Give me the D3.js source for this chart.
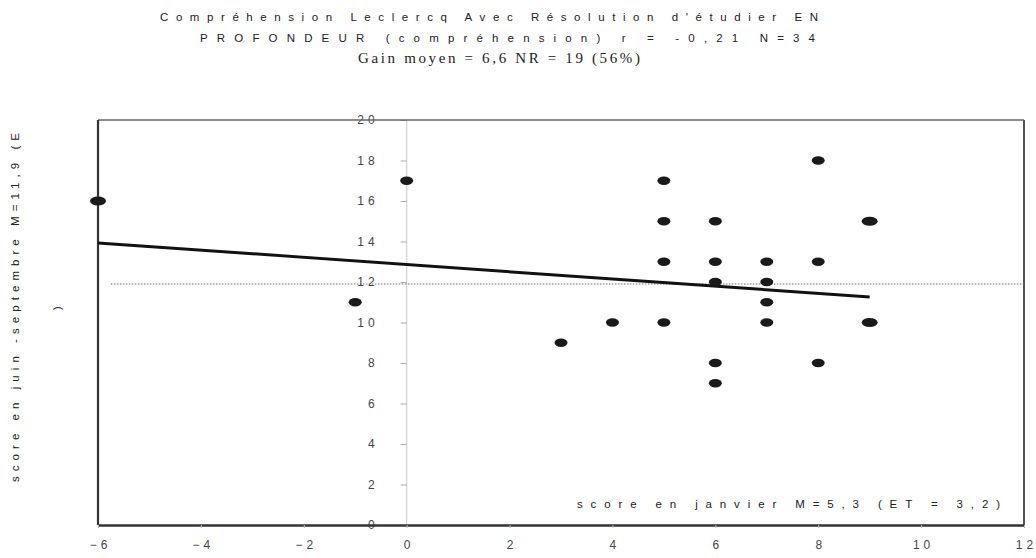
<!DOCTYPE html>
<html><head><meta charset="utf-8">
<script src="https://cdn.jsdelivr.net/npm/d3@7"></script>
<style>body{margin:0;background:#fff}svg{display:block}</style>
</head><body>
<svg id="c" width="1036" height="558"></svg>
<script>
// ---- data ----
const xVals  = [-6, 0, -1, 3, 4, 5, 5, 5, 5, 6, 6, 6, 6, 6, 7, 7, 7, 7, 8, 8, 8, 9, 9];
const yVals  = [16, 17, 11, 9, 10, 17, 15, 13, 10, 15, 13, 12, 8, 7, 13, 12, 11, 10, 18, 13, 8, 15, 10];
const counts = [2, 1, 1, 1, 1, 1, 1, 1, 1, 1, 1, 1, 1, 1, 1, 1, 1, 1, 1, 1, 1, 2, 2];
const regX = [-6, 9];
const regY = [13.93, 11.26];
const meanY = 11.9;
const xTicks = [-6, -4, -2, 0, 2, 4, 6, 8, 10, 12];
const yTicks = [0, 2, 4, 6, 8, 10, 12, 14, 16, 18, 20];
const titleLines = [
  "Compréhension Leclercq Avec Résolution d'étudier EN",
  "PROFONDEUR (compréhension) r = -0,21   N=34",
  "Gain moyen = 6,6  NR = 19 (56%)"
];
const xLabel = "score en janvier M=5,3 (ET = 3,2)";
const yLabel = "score en juin -septembre M=11,9 (E";
const yLabel2 = ")";

// ---- layout ----
const L = 98, R = 1024, T = 120, B = 525;
const svg = d3.select("#c");
const x = d3.scaleLinear().domain([-6, 12]).range([L, R]);
const y = d3.scaleLinear().domain([0, 20]).range([B, T]);
const sans = "'Liberation Sans', Arial, sans-serif";
const serif = "'Liberation Serif', 'Times New Roman', serif";

// light vertical zero line
svg.append("line").attr("x1", x(0)).attr("x2", x(0)).attr("y1", T).attr("y2", B)
  .attr("stroke", "#d0d0d0").attr("stroke-width", 1.2);

// mean dotted line
svg.append("line").attr("x1", x(-5.75)).attr("x2", R).attr("y1", y(meanY)).attr("y2", y(meanY))
  .attr("stroke", "#999").attr("stroke-width", 1.4).attr("stroke-dasharray", "1.5,1.5");

// y axis on x=0
const yAx = svg.append("g").attr("transform", `translate(${x(0)},0)`)
  .call(d3.axisLeft(y).tickValues(yTicks).tickSize(6).tickPadding(22).tickSizeOuter(0));
yAx.select(".domain").remove();
yAx.selectAll(".tick line").attr("stroke", "#aaa");
yAx.selectAll(".tick text").attr("font-family", sans).attr("font-size", 12).attr("fill", "#444")
  .style("letter-spacing", "4px");

// frame
svg.append("line").attr("x1", L).attr("x2", R).attr("y1", T).attr("y2", T).attr("stroke", "#666").attr("stroke-width", 1.5);
svg.append("line").attr("x1", L).attr("x2", L).attr("y1", T).attr("y2", B).attr("stroke", "#333").attr("stroke-width", 2.2);
svg.append("line").attr("x1", R).attr("x2", R).attr("y1", T).attr("y2", B).attr("stroke", "#555").attr("stroke-width", 2);

// x axis
const xAx = svg.append("g").attr("transform", `translate(0,${B})`)
  .call(d3.axisBottom(x).tickValues(xTicks).tickSize(3).tickPadding(12).tickSizeOuter(0));
xAx.select(".domain").attr("stroke", "#333").attr("stroke-width", 2.6);
xAx.selectAll(".tick line").attr("stroke", "#bbb");
xAx.selectAll(".tick text").attr("font-family", sans).attr("font-size", 12).attr("fill", "#444")
  .style("letter-spacing", "4px").attr("dx", "2px");

// regression line
svg.append("path")
  .attr("d", d3.line().x(d => x(d[0])).y(d => y(d[1]))(regX.map((v, i) => [v, regY[i]])))
  .attr("stroke", "#111").attr("stroke-width", 3).attr("fill", "none");

// points
svg.append("g").selectAll("ellipse").data(xVals.map((v, i) => ({x: v, y: yVals[i], n: counts[i]})))
  .join("ellipse")
  .attr("cx", d => x(d.x)).attr("cy", d => y(d.y))
  .attr("rx", d => d.n > 1 ? 8 : 6.5).attr("ry", d => d.n > 1 ? 4.5 : 4.2)
  .attr("fill", "#1a1a1a");

// titles
const tl = [
  {t: titleLines[0], x: 160, y: 21, w: 658, f: sans, s: 11.5},
  {t: titleLines[1], x: 200, y: 42, w: 615, f: sans, s: 11.5},
  {t: titleLines[2], x: 358, y: 63, w: 282, f: serif, s: 15}
];
svg.append("g").selectAll("text").data(tl).join("text")
  .attr("x", d => d.x).attr("y", d => d.y).text(d => d.t)
  .attr("font-family", d => d.f).attr("font-size", d => d.s).attr("fill", "#222")
  .attr("textLength", d => d.w).attr("lengthAdjust", "spacing");

// x label inside plot
svg.append("text").attr("x", 577).attr("y", 508).text(xLabel)
  .attr("font-family", sans).attr("font-size", 11.5).attr("fill", "#222")
  .attr("textLength", 423).attr("lengthAdjust", "spacing");

// y label
svg.append("text").attr("transform", "translate(19,482) rotate(-90)").text(yLabel)
  .attr("font-family", sans).attr("font-size", 11.5).attr("fill", "#222")
  .attr("textLength", 349).attr("lengthAdjust", "spacing");
svg.append("text").attr("transform", "translate(61,310) rotate(-90)").text(yLabel2)
  .attr("font-family", sans).attr("font-size", 11.5).attr("fill", "#222");
</script>
</body></html>
